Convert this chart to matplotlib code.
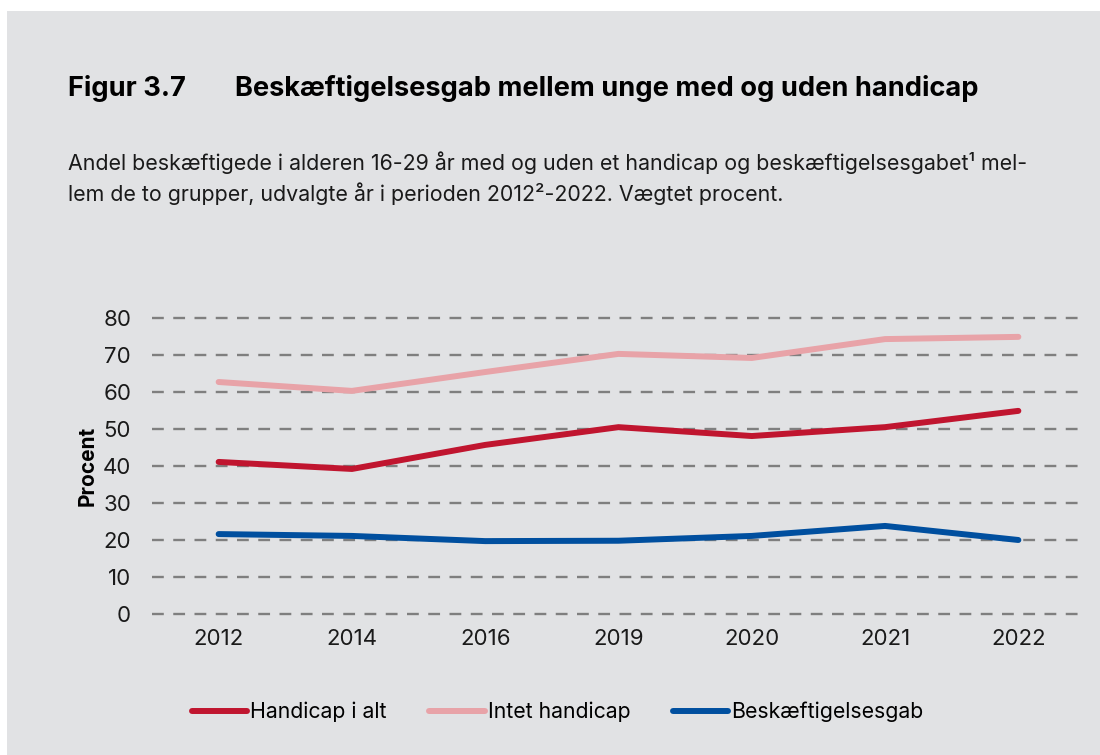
import matplotlib
matplotlib.use("Agg")
import matplotlib.pyplot as plt
from matplotlib.patches import Rectangle

# --- data ---
years = ["2012", "2014", "2016", "2019", "2020", "2021", "2022"]
handicap_i_alt = [41.1, 39.2, 45.7, 50.5, 48.1, 50.5, 54.9]
intet_handicap = [62.7, 60.3, 65.4, 70.3, 69.2, 74.3, 74.9]
gab = [21.6, 21.1, 19.7, 19.8, 21.1, 23.8, 20.0]
y_ticks = [0, 10, 20, 30, 40, 50, 60, 70, 80]

bg = "#e1e2e4"
plt.rcParams["font.family"] = ["Inter", "DejaVu Sans"]

fig = plt.figure(figsize=(11, 7.55), dpi=100)
fig.patch.set_facecolor("white")
fig.patches.append(Rectangle((7 / 1100, 0), 1, 1 - 11 / 755, transform=fig.transFigure,
                             facecolor=bg, edgecolor="none", zorder=-10))

ax = fig.add_axes([152 / 1100, 141 / 755, 933 / 1100, 296 / 755])
ax.set_facecolor(bg)

x = list(range(len(years)))
series = [
    ("Handicap i alt", handicap_i_alt, "#c0152f"),
    ("Intet handicap", intet_handicap, "#e8a3a8"),
    ("Beskæftigelsesgab", gab, "#004f9f"),
]
for label, vals, col in series:
    ax.plot(x, vals, color=col, lw=4.3, label=label,
            solid_capstyle="round", solid_joinstyle="round", zorder=3)

ax.set_xlim(-0.5, len(years) - 0.5)
ax.set_ylim(0, 80)
ax.set_xticks(x)
ax.set_xticklabels(years)
ax.set_yticks(y_ticks)
ax.tick_params(axis="both", length=0, labelsize=16, colors="#1a1a1a")
ax.tick_params(axis="y", pad=15)
ax.tick_params(axis="x", pad=11)
for s in ax.spines.values():
    s.set_visible(False)
for t in y_ticks:
    ax.axhline(t, color="#7f7f7f", lw=1.7, ls=(0, (5, 4)), zorder=1, clip_on=False)

ax.set_ylabel("Procent", fontsize=15, fontweight="bold", labelpad=4)

# titles
fig.text(68 / 1100, 1 - 88 / 755, "Figur 3.7", fontsize=19.6, fontweight="bold",
         va="center", ha="left")
fig.text(235 / 1100, 1 - 88 / 755, "Beskæftigelsesgab mellem unge med og uden handicap",
         fontsize=19.6, fontweight="bold", va="center", ha="left")
fig.text(68 / 1100, 1 - 163 / 755,
         "Andel beskæftigede i alderen 16-29 år med og uden et handicap og beskæftigelsesgabet¹ mel-",
         fontsize=15.4, va="center", ha="left", color="#1a1a1a")
fig.text(68 / 1100, 1 - 194 / 755,
         "lem de to grupper, udvalgte år i perioden 2012²-2022. Vægtet procent.",
         fontsize=15.4, va="center", ha="left", color="#1a1a1a")

leg = fig.legend(loc="center", bbox_to_anchor=(0.507, 1 - 712 / 755), ncol=3,
                 frameon=False, fontsize=15.3, handlelength=2.6, handletextpad=0.15,
                 columnspacing=2.0)
for h in leg.get_lines():
    h.set_linewidth(4.3)

fig.savefig("out.png", dpi=100, facecolor=fig.get_facecolor())
